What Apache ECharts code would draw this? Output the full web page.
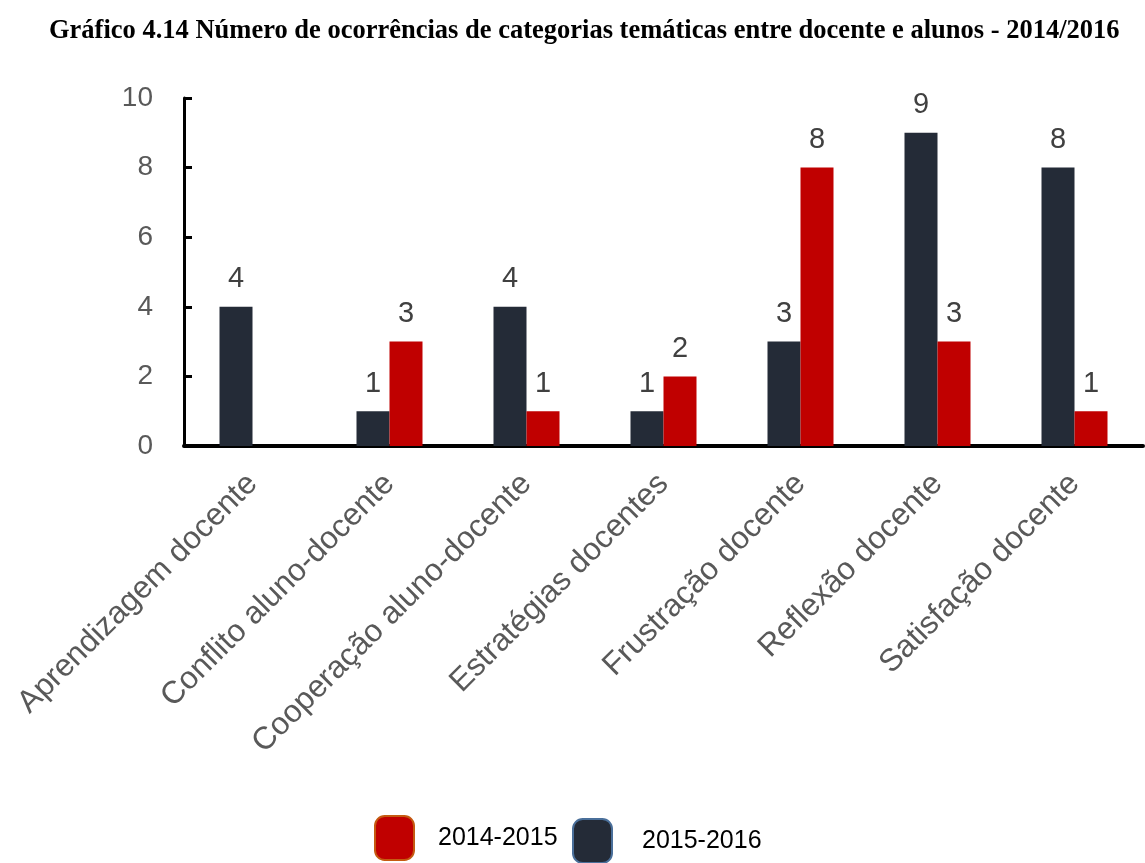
<!DOCTYPE html>
<html>
<head>
<meta charset="utf-8">
<script src="https://cdn.jsdelivr.net/npm/echarts@6/dist/echarts.min.js"></script>
<style>
  html, body { margin: 0; padding: 0; background: #fff; }
  #chart { width: 1145px; height: 863px; }
</style>
</head>
<body>
<div id="chart"></div>
<script>
// Categorias temáticas e ocorrências por ano letivo
const categories = [
  'Aprendizagem docente',
  'Conflito aluno-docente',
  'Cooperação aluno-docente',
  'Estratégias docentes',
  'Frustração docente',
  'Reflexão docente',
  'Satisfação docente'
];
const values20152016 = [4, 1, 4, 1, 3, 9, 8];
const values20142015 = [0, 3, 1, 2, 8, 3, 1];
const yTicks = [0, 2, 4, 6, 8, 10];
const titleText = 'Gráfico 4.14 Número de ocorrências de categorias temáticas entre docente e alunos - 2014/2016';

const RED = '#c00000';
const DARK = '#242b37';
const SANS = 'Liberation Sans, Arial, sans-serif';

const chart = echarts.init(document.getElementById('chart'), null, { renderer: 'canvas' });

const labelStyle = {
  show: true,
  position: 'top',
  distance: 13,
  color: '#404040',
  fontFamily: SANS,
  fontSize: 29,
  formatter: p => (p.value === 0 ? '' : String(p.value))
};

chart.setOption({
  backgroundColor: '#ffffff',
  animation: false,
  title: {
    text: titleText,
    left: 44,
    top: 13,
    textStyle: {
      fontFamily: 'Liberation Serif, Times New Roman, serif',
      fontWeight: 'bold',
      fontSize: 26.5,
      color: '#000'
    }
  },
  legend: [
    {
      data: [{ name: '2014-2015', itemStyle: { color: RED, borderColor: '#c55a11', borderWidth: 2 } }],
      left: 369, top: 810,
      icon: 'roundRect',
      itemWidth: 39, itemHeight: 44, itemGap: 0,
      textStyle: { fontFamily: SANS, fontSize: 25, color: '#000', padding: [0, 0, 0, 19] }
    },
    {
      data: [{ name: '2015-2016', itemStyle: { color: DARK, borderColor: '#4a6f9a', borderWidth: 2 } }],
      left: 567, top: 813,
      icon: 'roundRect',
      itemWidth: 39, itemHeight: 44, itemGap: 0,
      textStyle: { fontFamily: SANS, fontSize: 25, color: '#000', padding: [10, 0, 0, 25] }
    }
  ],
  grid: { left: 184, right: 2, top: 98, bottom: 417, containLabel: false },
  xAxis: {
    type: 'category',
    data: categories,
    axisLine: { lineStyle: { color: '#000', width: 4 } },
    axisTick: { show: false },
    axisLabel: {
      interval: 0,
      rotate: 45,
      margin: 33,
      color: '#595959',
      fontFamily: SANS,
      fontSize: 31.5
    }
  },
  yAxis: {
    type: 'value',
    min: yTicks[0],
    max: yTicks[yTicks.length - 1],
    interval: 2,
    splitLine: { show: false },
    axisLine: { show: true, lineStyle: { color: '#000', width: 3 } },
    axisTick: { show: true, inside: true, length: 8, lineStyle: { color: '#000', width: 3 } },
    axisLabel: {
      margin: 31,
      color: '#595959',
      fontFamily: SANS,
      fontSize: 28
    }
  },
  series: [
    {
      name: '2015-2016',
      type: 'bar',
      data: values20152016,
      barWidth: 33,
      barGap: '0%',
      itemStyle: { color: DARK },
      label: labelStyle
    },
    {
      name: '2014-2015',
      type: 'bar',
      data: values20142015,
      barWidth: 33,
      barGap: '0%',
      itemStyle: { color: RED },
      label: labelStyle
    }
  ]
});
</script>
</body>
</html>
